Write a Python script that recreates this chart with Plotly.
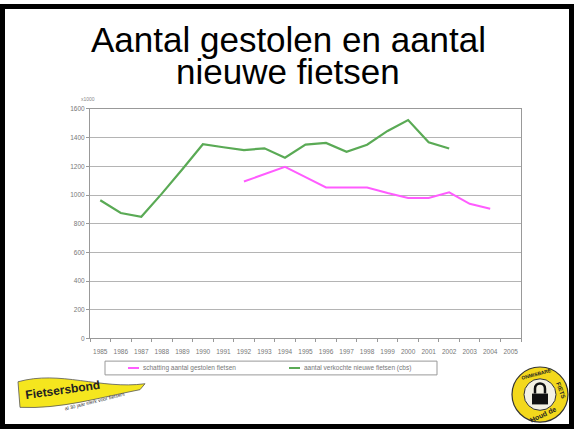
import plotly.graph_objects as go

# ---- data ----
years = list(range(1985, 2006))
green_years = list(range(1985, 2003))
green_values = [964, 875, 848, 1010, 1180, 1354, 1333, 1313, 1326, 1260, 1351, 1363,
                1301, 1351, 1447, 1523, 1368, 1324]
pink_years = list(range(1992, 2005))
pink_values = [1094, 1145, 1197, 1125, 1053, 1053, 1053, 1014, 980, 980, 1019, 939, 905]
y_ticks = [0, 200, 400, 600, 800, 1000, 1200, 1400, 1600]
pink_name = "schatting aantal gestolen fietsen"
green_name = "aantal verkochte nieuwe fietsen (cbs)"
title_lines = ["Aantal gestolen en aantal", "nieuwe fietsen"]

PINK = "#ff5cff"
GREEN = "#5aaa55"

W, H = 574, 432


def px(x):
    return x / W


def py(y):
    return 1 - y / H


FONT = "Liberation Sans, Arial, sans-serif"

fig = go.Figure()
fig.add_trace(go.Scatter(x=pink_years, y=pink_values, mode="lines", name=pink_name,
                         line=dict(color=PINK, width=2), showlegend=False))
fig.add_trace(go.Scatter(x=green_years, y=green_values, mode="lines", name=green_name,
                         line=dict(color=GREEN, width=2.2), showlegend=False))

shapes = []
annotations = []

# slide frame
shapes.append(dict(type="rect", xref="paper", yref="paper", x0=px(2.5), x1=px(571.5),
                   y0=py(429.5), y1=py(2.5), line=dict(color="black", width=5)))

# title
for txt, yy in zip(title_lines, [36.5, 68.5]):
    annotations.append(dict(text=txt, xref="paper", yref="paper", x=px(288), y=py(yy),
                            xanchor="center", yanchor="middle", showarrow=False,
                            font=dict(family=FONT, size=35, color="black")))
annotations.append(dict(text="x1000", xref="paper", yref="paper", x=px(88), y=py(97),
                        xanchor="center", yanchor="middle", showarrow=False,
                        font=dict(family=FONT, size=5, color="#888")))

# legend (drawn from the trace names and colours)
shapes.append(dict(type="rect", xref="paper", yref="paper", x0=px(105), x1=px(437),
                   y0=py(377), y1=py(363), line=dict(color="#999", width=1),
                   fillcolor="white"))
for name, col, x0 in [(pink_name, PINK, 128), (green_name, GREEN, 289)]:
    shapes.append(dict(type="line", xref="paper", yref="paper", x0=px(x0), x1=px(x0 + 11),
                       y0=py(370), y1=py(370), line=dict(color=col, width=2)))
    annotations.append(dict(text=name, xref="paper", yref="paper", x=px(x0 + 13), y=py(370),
                            xanchor="left", yanchor="middle", showarrow=False,
                            font=dict(family=FONT, size=6.5, color="#777")))

# Fietsersbond pennant logo
pen = ("M {},{} C {},{} {},{} {},{} L {},{} C {},{} {},{} {},{} Z").format(
    px(18), py(384),
    px(60), py(372), px(100), py(392), px(145), py(386),
    px(140), py(392),
    px(100), py(400), px(60), py(412), px(20), py(410))
shapes.append(dict(type="path", xref="paper", yref="paper", path=pen,
                   fillcolor="#f5e61e", line=dict(color="#555", width=0.8)))
annotations.append(dict(text="<b>Fietsersbond</b>", xref="paper", yref="paper", x=px(62), y=py(392),
                        xanchor="center", yanchor="middle", showarrow=False, textangle=-8,
                        font=dict(family=FONT, size=12, color="#222")))
annotations.append(dict(text="al 30 jaar sterk voor fietsers", xref="paper", yref="paper",
                        x=px(95), y=py(404), xanchor="center", yanchor="middle", showarrow=False,
                        textangle=-14, font=dict(family=FONT, size=5, color="#333")))

# badge logo
cx, cy, r = 540, 397, 28
shapes.append(dict(type="circle", xref="paper", yref="paper", x0=px(cx - r), x1=px(cx + r),
                   y0=py(cy + r), y1=py(cy - r), fillcolor="#f3d81c",
                   line=dict(color="#333", width=1.2)))
ri = 16
shapes.append(dict(type="circle", xref="paper", yref="paper", x0=px(cx - ri), x1=px(cx + ri),
                   y0=py(cy + ri), y1=py(cy - ri), fillcolor="#f4f1e4",
                   line=dict(color="#333", width=1)))
shapes.append(dict(type="rect", xref="paper", yref="paper", x0=px(cx - 8), x1=px(cx + 8),
                   y0=py(cy + 10), y1=py(cy - 1), fillcolor="#111", line=dict(width=0)))
shapes.append(dict(type="path", xref="paper", yref="paper",
                   path="M {},{} L {},{} C {},{} {},{} {},{} L {},{}".format(
                       px(cx - 5), py(cy - 1), px(cx - 5), py(cy - 6),
                       px(cx - 5), py(cy - 13), px(cx + 5), py(cy - 13), px(cx + 5), py(cy - 6),
                       px(cx + 5), py(cy - 1)),
                   line=dict(color="#111", width=2.5)))
annotations.append(dict(text="<b>ONMISBARE</b>", xref="paper", yref="paper", x=px(536), y=py(376),
                        xanchor="center", yanchor="middle", showarrow=False, textangle=-15,
                        font=dict(family=FONT, size=5, color="#222")))
annotations.append(dict(text="<b>FIETS</b>", xref="paper", yref="paper", x=px(561), y=py(392),
                        xanchor="center", yanchor="middle", showarrow=False, textangle=70,
                        font=dict(family=FONT, size=6, color="#222")))
annotations.append(dict(text="<b>Houd de</b>", xref="paper", yref="paper", x=px(543), y=py(417),
                        xanchor="center", yanchor="middle", showarrow=False, textangle=-25,
                        font=dict(family=FONT, size=7, color="#222")))

fig.update_layout(
    width=W, height=H,
    margin=dict(l=0, r=0, t=0, b=0),
    paper_bgcolor="white", plot_bgcolor="white",
    shapes=shapes, annotations=annotations,
    showlegend=False,
    xaxis=dict(domain=[px(90), px(521)], range=[1984.5, 2005.5], tickmode="array",
               tickvals=years, ticktext=[str(y) for y in years], ticks="",
               ticklabelstandoff=7,
               showgrid=False, zeroline=False, showline=True, linecolor="#999", linewidth=1,
               mirror=True, tickfont=dict(family=FONT, size=6.5, color="#777"),
               minor=dict(ticks="outside", tick0=1984.5, dtick=1, ticklen=3, tickcolor="#999",
                          showgrid=False)),
    yaxis=dict(domain=[py(340), py(106.7)], range=[0, 1600], tickmode="array",
               tickvals=y_ticks, ticks="outside", ticklen=3, tickcolor="#999",
               showgrid=True, gridcolor="#b4b4b4", gridwidth=1, zeroline=False,
               showline=True, linecolor="#999", linewidth=1, mirror=True,
               tickfont=dict(family=FONT, size=6.5, color="#777")),
)

fig.write_html("out.html", config={"displayModeBar": False},
               post_script="document.body.style.margin='0';")
